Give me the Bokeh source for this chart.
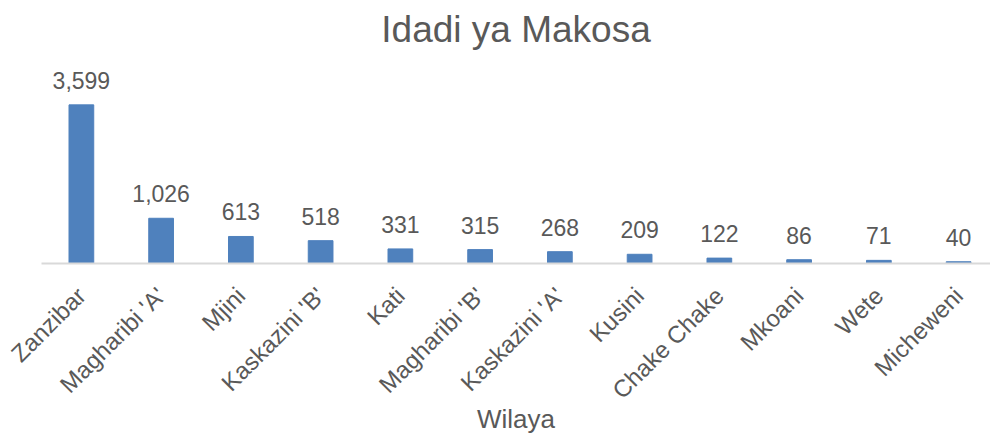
import math
from bokeh.plotting import figure
from bokeh.models import ColumnDataSource, Range1d, FixedTicker
from bokeh.core.properties import value
from bokeh.embed import file_html
from bokeh.resources import INLINE

categories = ["Zanzibar", "Magharibi 'A'", "Mjini", "Kaskazini 'B'", "Kati",
              "Magharibi 'B'", "Kaskazini 'A'", "Kusini", "Chake Chake",
              "Mkoani", "Wete", "Micheweni"]
counts = [3599, 1026, 613, 518, 331, 315, 268, 209, 122, 86, 71, 40]
x_title = "Wilaya"
chart_title = "Idadi ya Makosa"

xs = list(range(len(categories)))
labels = [f"{v:,}" for v in counts]
src = ColumnDataSource(dict(x=xs, top=counts, lab=labels))

FONT = "Liberation Sans"
TXT = "#595959"

p = figure(width=990, height=437, output_backend="svg", toolbar_location=None,
           x_range=Range1d(-0.5, 11.4), y_range=Range1d(0, 4719),
           min_border_left=41, min_border_right=0, min_border_top=10,
           min_border_bottom=174)
p.title.text = chart_title
p.title.align = "center"
p.title.text_font = FONT
p.title.text_font_size = "37px"
p.title.text_font_style = "normal"
p.title.text_color = TXT
p.title.standoff = 12

p.vbar(x="x", top="top", width=0.31, source=src, color="#4F81BD")
p.text(x="x", y="top", text="lab", source=src, text_align="center",
       text_baseline="bottom", y_offset=-16, text_font=value(FONT),
       text_font_size="23px", text_color=TXT)

p.yaxis.visible = False
p.grid.visible = False
p.outline_line_color = None

ax = p.xaxis[0]
ax.ticker = FixedTicker(ticks=xs)
ax.major_label_overrides = {i: c for i, c in zip(xs, categories)}
ax.major_label_orientation = math.pi / 4
ax.major_label_text_font = FONT
ax.major_label_text_font_size = "24px"
ax.major_label_text_line_height = 1.0
ax.major_label_text_color = TXT
ax.major_label_standoff = 22
ax.major_tick_line_color = None
ax.minor_tick_line_color = None
ax.axis_line_color = "#D9D9D9"
ax.axis_line_width = 2
ax.axis_label = x_title
ax.axis_label_text_font = FONT
ax.axis_label_text_font_size = "26px"
ax.axis_label_text_line_height = 1.0
ax.axis_label_text_font_style = "normal"
ax.axis_label_text_color = TXT
ax.axis_label_standoff = -12

open("out.html", "w").write(file_html(p, INLINE))
